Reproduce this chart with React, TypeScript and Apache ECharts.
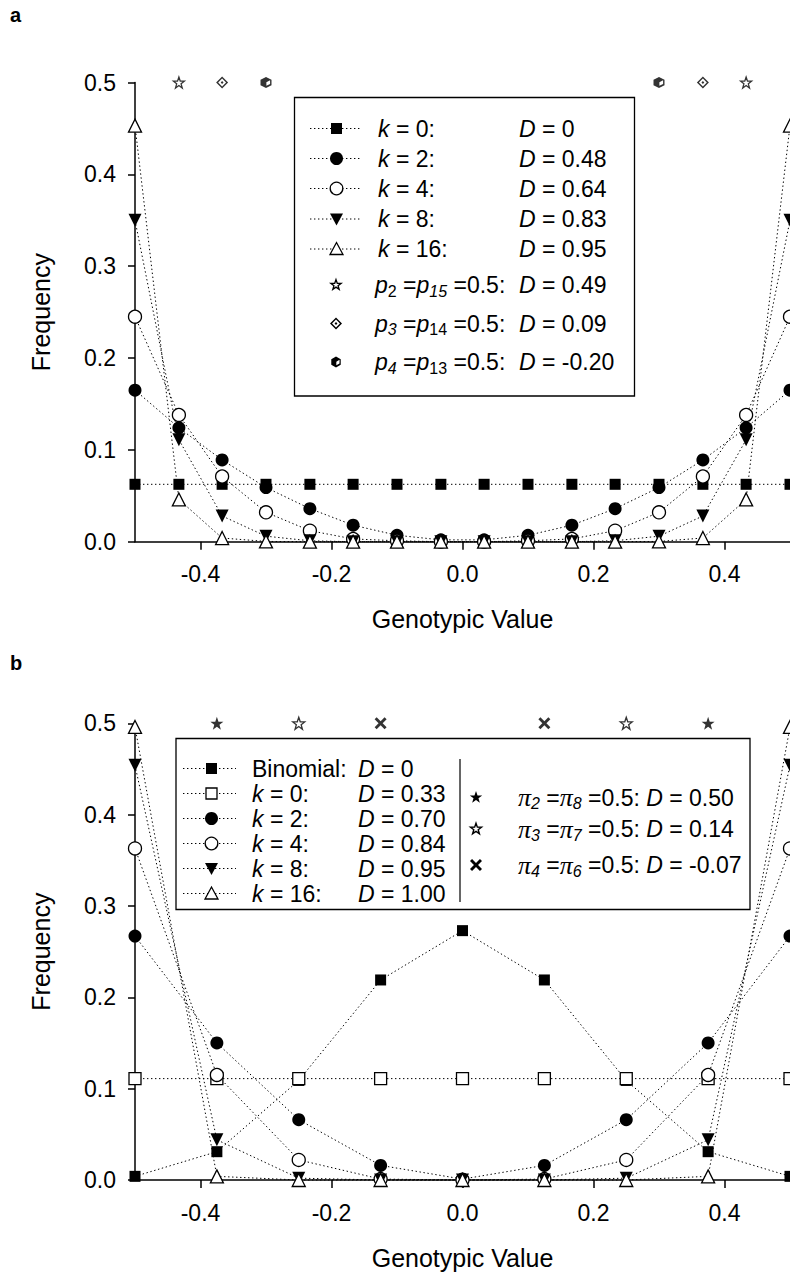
import React, { useEffect, useRef } from 'react';
import * as echarts from 'echarts';

const FONT = '"Liberation Sans", Arial, Helvetica, sans-serif';
const SERIF = '"Liberation Serif", "Times New Roman", serif';

// ---------- Panel a data ----------
const xA = [-0.5, -0.433, -0.367, -0.3, -0.233, -0.167, -0.1, -0.033, 0.033, 0.1, 0.167, 0.233, 0.3, 0.367, 0.433, 0.5];
const k0A = [0.0625, 0.0625, 0.0625, 0.0625, 0.0625, 0.0625, 0.0625, 0.0625, 0.0625, 0.0625, 0.0625, 0.0625, 0.0625, 0.0625, 0.0625, 0.0625];
const k2A = [0.165, 0.124, 0.089, 0.059, 0.036, 0.018, 0.007, 0.002, 0.002, 0.007, 0.018, 0.036, 0.059, 0.089, 0.124, 0.165];
const k4A = [0.245, 0.138, 0.071, 0.032, 0.012, 0.003, 0.001, 0.0, 0.0, 0.001, 0.003, 0.012, 0.032, 0.071, 0.138, 0.245];
const k8A = [0.35, 0.111, 0.028, 0.006, 0.001, 0.0, 0.0, 0.0, 0.0, 0.0, 0.0, 0.001, 0.006, 0.028, 0.111, 0.35];
const k16A = [0.453, 0.046, 0.004, 0.0003, 0.0, 0.0, 0.0, 0.0, 0.0, 0.0, 0.0, 0.0, 0.0003, 0.004, 0.046, 0.453];
const p2X = [-0.433, 0.433];
const p3X = [-0.367, 0.367];
const p4X = [-0.3, 0.3];
const topY = 0.5;

// ---------- Panel b data ----------
const xB = [-0.5, -0.375, -0.25, -0.125, 0, 0.125, 0.25, 0.375, 0.5];
const binomB = [0.004, 0.031, 0.109, 0.219, 0.273, 0.219, 0.109, 0.031, 0.004];
const k0B = [0.111, 0.111, 0.111, 0.111, 0.111, 0.111, 0.111, 0.111, 0.111];
const k2B = [0.267, 0.15, 0.066, 0.016, 0.001, 0.016, 0.066, 0.15, 0.267];
const k4B = [0.363, 0.115, 0.022, 0.001, 0.0, 0.001, 0.022, 0.115, 0.363];
const k8B = [0.454, 0.044, 0.002, 0.0, 0.0, 0.0, 0.002, 0.044, 0.454];
const k16B = [0.496, 0.004, 0.0, 0.0, 0.0, 0.0, 0.0, 0.004, 0.496];
const pi2X = [-0.375, 0.375];
const pi3X = [-0.25, 0.25];
const pi4X = [-0.125, 0.125];

// ---------- Axis ticks ----------
const xTicks = [-0.4, -0.2, 0, 0.2, 0.4];

// ---------- Legend texts ----------
const legendKA = ['{i|k} = 0:', '{i|k} = 2:', '{i|k} = 4:', '{i|k} = 8:', '{i|k} = 16:'];
const legendDA = ['{i|D} = 0', '{i|D} = 0.48', '{i|D} = 0.64', '{i|D} = 0.83', '{i|D} = 0.95'];
const legendPA = ['{i|p}{s|2} ={i|p}{si|15} =0.5:', '{i|p}{si|3} ={i|p}{s|14} =0.5:', '{i|p}{si|4} ={i|p}{s|13} =0.5:'];
const legendPDA = ['{i|D} = 0.49', '{i|D} = 0.09', '{i|D} = -0.20'];
const legendKB = ['Binomial:', '{i|k} = 0:', '{i|k} = 2:', '{i|k} = 4:', '{i|k} = 8:', '{i|k} = 16:'];
const legendDB = ['{i|D} = 0', '{i|D} = 0.33', '{i|D} = 0.70', '{i|D} = 0.84', '{i|D} = 0.95', '{i|D} = 1.00'];
const legendPiB = [
  '{pi|π}{si|2} ={pi|π}{si|8} =0.5: {i|D} = 0.50',
  '{pi|π}{si|3} ={pi|π}{si|7} =0.5: {i|D} = 0.14',
  '{pi|π}{si|4} ={pi|π}{si|6} =0.5: {i|D} = -0.07',
];

// ---------- Symbol shapes ----------
const STAR = 'M50 0 L61.76 33.82 L97.55 34.55 L69.02 56.18 L79.39 90.45 L50 70 L20.61 90.45 L30.98 56.18 L2.45 34.55 L38.24 33.82 Z';
const XMARK = 'M0 17 L17 0 L50 33 L83 0 L100 17 L67 50 L100 83 L83 100 L50 67 L17 100 L0 83 L33 50 Z';
const DIAMDOT = 'M50 0 L100 50 L50 100 L0 50 Z M50 17 L17 50 L50 83 L83 50 Z M50 38 L62 50 L50 62 L38 50 Z';
const HEXCUBE = 'M50 0 L93 25 L93 75 L50 100 L7 75 L7 25 Z M53 47 L53 80 L82 63 L82 30 Z';

let registered = false;
function registerShapes() {
  if (registered) return;
  registered = true;
  echarts.graphic.registerShape('xmarkShape', echarts.graphic.extendPath(XMARK, {}));
  echarts.graphic.registerShape('diamdotShape', echarts.graphic.extendPath(DIAMDOT, {}));
  echarts.graphic.registerShape('hexcubeShape', echarts.graphic.extendPath(HEXCUBE, {}));
}

const DASH = [1.4, 2.6];
const BLACK = '#000';
const FS = 23;

type Sym = 'sqF' | 'sqO' | 'ciF' | 'ciO' | 'trD' | 'trO';

function symOpts(s: Sym) {
  switch (s) {
    case 'sqF': return { symbol: 'rect', symbolSize: 11, symbolRotate: 0, itemStyle: { color: BLACK } };
    case 'sqO': return { symbol: 'rect', symbolSize: 12, symbolRotate: 0, itemStyle: { color: '#fff', borderColor: BLACK, borderWidth: 1.3 } };
    case 'ciF': return { symbol: 'circle', symbolSize: 13, symbolRotate: 0, itemStyle: { color: BLACK } };
    case 'ciO': return { symbol: 'circle', symbolSize: 13, symbolRotate: 0, itemStyle: { color: '#fff', borderColor: BLACK, borderWidth: 1.3 } };
    case 'trD': return { symbol: 'triangle', symbolSize: 13, symbolRotate: 180, itemStyle: { color: BLACK } };
    case 'trO': return { symbol: 'triangle', symbolSize: 13, symbolRotate: 0, itemStyle: { color: '#fff', borderColor: BLACK, borderWidth: 1.3 } };
  }
}

function lineSeries(name: string, xs: number[], ys: number[], s: Sym, axis: number, z: number) {
  return {
    type: 'line',
    name,
    xAxisIndex: axis,
    yAxisIndex: axis,
    data: xs.map((x, i) => [x, ys[i]]),
    showAllSymbol: true,
    clip: false,
    silent: true,
    z,
    lineStyle: { color: BLACK, width: 1, type: DASH },
    emphasis: { disabled: true },
    ...symOpts(s),
  };
}

function topSeries(name: string, xs: number[], path: string, size: number, open: boolean, axis: number) {
  return {
    type: 'scatter',
    name,
    xAxisIndex: axis,
    yAxisIndex: axis,
    data: xs.map((x) => [x, topY]),
    symbol: 'path://' + path,
    symbolSize: size,
    clip: false,
    silent: true,
    z: 5,
    itemStyle: open ? { color: '#fff', borderColor: BLACK, borderWidth: 1.3 } : { color: BLACK },
    emphasis: { disabled: true },
  };
}

function xAxisDef(gridIndex: number) {
  return {
    type: 'value', gridIndex, min: -0.5, max: 0.5,
    name: 'Genotypic Value', nameLocation: 'middle', nameGap: 65,
    nameTextStyle: { fontSize: 25, color: BLACK, fontFamily: FONT },
    axisLine: { show: true, onZero: false, lineStyle: { color: BLACK, width: 1.5 } },
    axisTick: { show: true, inside: false, length: 8, customValues: xTicks, lineStyle: { color: BLACK, width: 1.5 } },
    axisLabel: { show: true, customValues: xTicks, formatter: (v: number) => v.toFixed(1), fontSize: FS, color: BLACK, fontFamily: FONT, margin: 21 },
    splitLine: { show: false },
  };
}

function yAxisDef(gridIndex: number) {
  return {
    type: 'value', gridIndex, min: 0, max: 0.5, interval: 0.1,
    name: 'Frequency', nameLocation: 'middle', nameGap: 82, nameRotate: 90,
    nameTextStyle: { fontSize: 25, color: BLACK, fontFamily: FONT },
    axisLine: { show: true, onZero: false, lineStyle: { color: BLACK, width: 1.5 } },
    axisTick: { show: true, inside: false, length: 7, lineStyle: { color: BLACK, width: 1.5 } },
    axisLabel: { show: true, formatter: (v: number) => v.toFixed(1), fontSize: FS, color: BLACK, fontFamily: FONT, margin: 19 },
    splitLine: { show: false },
  };
}

const RICH = {
  n: { fontSize: FS, fontFamily: FONT, lineHeight: 28, fill: BLACK },
  i: { fontSize: FS, fontFamily: FONT, fontStyle: 'italic', lineHeight: 28, fill: BLACK },
  s: { fontSize: 16, fontFamily: FONT, lineHeight: 16, verticalAlign: 'bottom', fill: BLACK },
  si: { fontSize: 16, fontFamily: FONT, fontStyle: 'italic', lineHeight: 16, verticalAlign: 'bottom', fill: BLACK },
  pi: { fontSize: 26, fontFamily: SERIF, fontStyle: 'italic', lineHeight: 28, fill: BLACK },
};

function txt(text: string, x: number, y: number) {
  return {
    type: 'text', z: 101,
    style: { text, x, y, verticalAlign: 'middle', align: 'left', fontSize: FS, fontFamily: FONT, lineHeight: 28, fill: BLACK, rich: RICH },
  };
}

function starPoints(cx: number, cy: number, R: number) {
  const pts: number[][] = [];
  for (let j = 0; j < 10; j++) {
    const a = (-90 + j * 36) * Math.PI / 180;
    const r = j % 2 === 0 ? R : R * 0.4;
    pts.push([cx + r * Math.cos(a), cy + r * Math.sin(a)]);
  }
  return pts;
}

function legendMarker(s: Sym, cx: number, cy: number) {
  const openStyle = { fill: '#fff', stroke: BLACK, lineWidth: 1.3 };
  const fillStyle = { fill: BLACK };
  switch (s) {
    case 'sqF': return { type: 'rect', z: 102, shape: { x: cx - 5.5, y: cy - 5.5, width: 11, height: 11 }, style: fillStyle };
    case 'sqO': return { type: 'rect', z: 102, shape: { x: cx - 5.5, y: cy - 5.5, width: 11, height: 11 }, style: openStyle };
    case 'ciF': return { type: 'circle', z: 102, shape: { cx, cy, r: 6.5 }, style: fillStyle };
    case 'ciO': return { type: 'circle', z: 102, shape: { cx, cy, r: 6.3 }, style: openStyle };
    case 'trD': return { type: 'polygon', z: 102, shape: { points: [[cx - 6.5, cy - 5.5], [cx + 6.5, cy - 5.5], [cx, cy + 6.5]] }, style: fillStyle };
    case 'trO': return { type: 'polygon', z: 102, shape: { points: [[cx - 6.5, cy + 5.5], [cx + 6.5, cy + 5.5], [cx, cy - 6.5]] }, style: openStyle };
  }
}

function sampleLine(x1: number, x2: number, y: number) {
  return { type: 'line', z: 101, shape: { x1, y1: y, x2, y2: y }, style: { stroke: BLACK, lineWidth: 1, lineDash: DASH } };
}

function pathShape(type: string, cx: number, cy: number, size: number) {
  return { type, z: 102, x: cx - size / 2, y: cy - size / 2, scaleX: size / 100, scaleY: size / 100, style: { fill: BLACK } };
}

function buildGraphics() {
  const g: any[] = [];
  // panel letters
  g.push({ type: 'text', z: 101, style: { text: 'a', x: 10, y: 15, verticalAlign: 'middle', fontSize: 20, fontWeight: 'bold', fontFamily: FONT, fill: BLACK } });
  g.push({ type: 'text', z: 101, style: { text: 'b', x: 10, y: 663, verticalAlign: 'middle', fontSize: 20, fontWeight: 'bold', fontFamily: FONT, fill: BLACK } });

  // ---- Legend a ----
  g.push({ type: 'rect', z: 100, shape: { x: 294.5, y: 97.5, width: 340, height: 298.5 }, style: { fill: '#fff', stroke: BLACK, lineWidth: 1.3 } });
  const symsA: Sym[] = ['sqF', 'ciF', 'ciO', 'trD', 'trO'];
  const rowsA = [128.5, 158.5, 188.5, 219, 249];
  rowsA.forEach((y, i) => {
    g.push(sampleLine(310, 361, y));
    g.push(legendMarker(symsA[i], 336.5, y));
    g.push(txt(legendKA[i], 378, y));
    g.push(txt(legendDA[i], 519, y));
  });
  const rowsPA = [285, 323.5, 362];
  g.push({ type: 'polygon', z: 102, shape: { points: starPoints(336, rowsPA[0], 5.4) }, style: { fill: '#fff', stroke: BLACK, lineWidth: 1.3 } });
  g.push(pathShape('diamdotShape', 336, rowsPA[1], 12));
  g.push(pathShape('hexcubeShape', 336, rowsPA[2], 11));
  rowsPA.forEach((y, i) => {
    g.push(txt(legendPA[i], 375, y));
    g.push(txt(legendPDA[i], 519, y));
  });

  // ---- Legend b ----
  g.push({ type: 'rect', z: 100, shape: { x: 176, y: 738.5, width: 574, height: 171 }, style: { fill: '#fff', stroke: BLACK, lineWidth: 1.3 } });
  const symsB: Sym[] = ['sqF', 'sqO', 'ciF', 'ciO', 'trD', 'trO'];
  const rowsB = [768.5, 793.5, 818.5, 843.5, 868.5, 893.5];
  rowsB.forEach((y, i) => {
    g.push(sampleLine(183, 236, y));
    g.push(legendMarker(symsB[i], 211.5, y));
    g.push(txt(legendKB[i], 252, y));
    g.push(txt(legendDB[i], 358, y));
  });
  g.push({ type: 'line', z: 101, shape: { x1: 460, y1: 759, x2: 460, y2: 902 }, style: { stroke: '#333', lineWidth: 1.5 } });
  const rowsPiB = [797.5, 829, 865];
  g.push({ type: 'polygon', z: 102, shape: { points: starPoints(476, rowsPiB[0], 6.5) }, style: { fill: BLACK } });
  g.push({ type: 'polygon', z: 102, shape: { points: starPoints(476, rowsPiB[1], 5.8) }, style: { fill: '#fff', stroke: BLACK, lineWidth: 1.4 } });
  g.push(pathShape('xmarkShape', 476, rowsPiB[2], 12));
  rowsPiB.forEach((y, i) => {
    g.push(txt(legendPiB[i], 518, y));
  });
  return g;
}

export default function App() {
  const ref = useRef<HTMLDivElement>(null);
  useEffect(() => {
    if (!ref.current) return;
    registerShapes();
    const chart = echarts.init(ref.current, undefined, { renderer: 'svg' });
    const option: any = {
      animation: false,
      backgroundColor: '#fff',
      textStyle: { fontFamily: FONT, color: BLACK },
      grid: [
        { left: 135, top: 82.5, width: 655, height: 459.2 },
        { left: 135, top: 723.3, width: 655, height: 456.7 },
      ],
      xAxis: [xAxisDef(0), xAxisDef(1)],
      yAxis: [yAxisDef(0), yAxisDef(1)],
      series: [
        lineSeries('k = 0 (a)', xA, k0A, 'sqF', 0, 3),
        lineSeries('k = 2 (a)', xA, k2A, 'ciF', 0, 3),
        lineSeries('k = 4 (a)', xA, k4A, 'ciO', 0, 3),
        lineSeries('k = 8 (a)', xA, k8A, 'trD', 0, 3),
        lineSeries('k = 16 (a)', xA, k16A, 'trO', 0, 3),
        topSeries('p2 = p15 = 0.5', p2X, STAR, 11, true, 0),
        topSeries('p3 = p14 = 0.5', p3X, DIAMDOT, 12, false, 0),
        topSeries('p4 = p13 = 0.5', p4X, HEXCUBE, 11, false, 0),
        lineSeries('Binomial (b)', xB, binomB, 'sqF', 1, 3),
        lineSeries('k = 0 (b)', xB, k0B, 'sqO', 1, 3),
        lineSeries('k = 2 (b)', xB, k2B, 'ciF', 1, 3),
        lineSeries('k = 4 (b)', xB, k4B, 'ciO', 1, 3),
        lineSeries('k = 8 (b)', xB, k8B, 'trD', 1, 3),
        lineSeries('k = 16 (b)', xB, k16B, 'trO', 1, 3),
        topSeries('π2 = π8 = 0.5', pi2X, STAR, 13, false, 1),
        topSeries('π3 = π7 = 0.5', pi3X, STAR, 12, true, 1),
        topSeries('π4 = π6 = 0.5', pi4X, XMARK, 12, false, 1),
      ],
      graphic: buildGraphics(),
    };
    chart.setOption(option);
    return () => chart.dispose();
  }, []);
  return <div ref={ref} style={{ position: 'fixed', left: 0, top: 0, width: 790, height: 1277, background: '#fff' }} />;
}
